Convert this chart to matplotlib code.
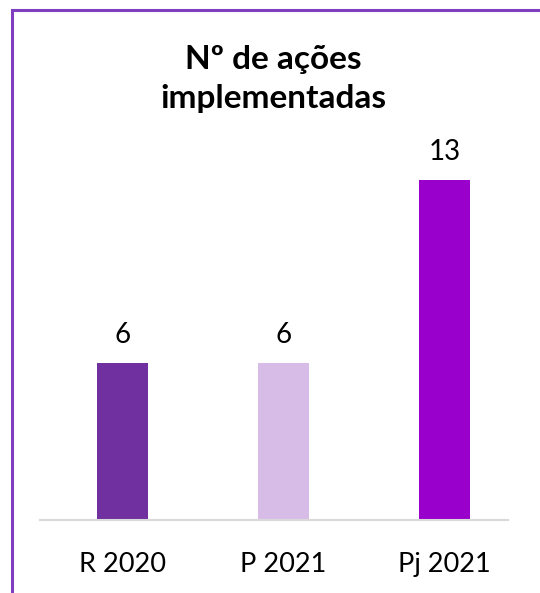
import matplotlib
matplotlib.use('Agg')
import matplotlib.pyplot as plt
from matplotlib.patches import Rectangle

plt.rcParams['font.family'] = ['Lato', 'DejaVu Sans']

# Data
categories = ['R 2020', 'P 2021', 'Pj 2021']
values = [6, 6, 13]
colors = ['#7030A0', '#D8BCE8', '#9900CC']

fig = plt.figure(figsize=(5.4, 5.93), dpi=100)
W, H = 540, 593

# Axes placed in pixel terms
ax = fig.add_axes([40 / W, 73 / H, 468 / W, 392 / H])
bars = ax.bar(range(len(categories)), values, width=0.317, color=colors)
ax.set_xlim(-0.513, 2.394)
ax.set_ylim(0, 15)

for b, v in zip(bars, values):
    ax.annotate(str(v), (b.get_x() + b.get_width() / 2, v), xytext=(0, 11),
                textcoords='offset points', ha='center', va='bottom', fontsize=20)

ax.set_xticks(range(len(categories)))
ax.set_xticklabels(categories, fontsize=19.5)
ax.tick_params(axis='x', length=0, pad=23)
ax.set_yticks([])
for side in ['top', 'right', 'left']:
    ax.spines[side].set_visible(False)
ax.spines['bottom'].set_color('#D9D9D9')
ax.spines['bottom'].set_linewidth(1.5)

# Title
fig.text(273 / W, 1 - 79 / H, 'Nº de ações\nimplementadas', ha='center', va='center',
         fontsize=24, fontweight='bold', linespacing=1.4)

# Purple chart border (top and left visible)
fig.add_artist(Rectangle((11.5 / W, -0.01), 1.2, 1 - 9.5 / H + 0.01, transform=fig.transFigure,
                         fill=False, edgecolor='#7F3FBF', linewidth=2.2))

fig.savefig('out.png', dpi=100)
